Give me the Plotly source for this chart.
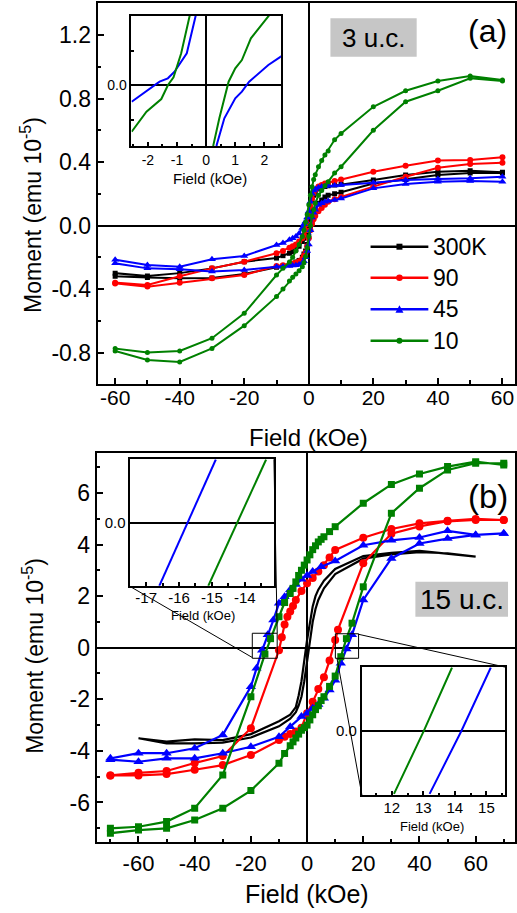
import plotly.graph_objects as go

W, H = 517, 913
FONT = "Liberation Sans, Arial, sans-serif"

# ---------------- Panel (a): 3 u.c. ----------------
a_field_desc = [60, 50, 40, 30, 20, 10, 8, 6, 5, 4, 3, 2, 1.5, 1, 0.5, 0, -0.5, -1, -1.5, -2,
                -3, -4, -5, -6, -8, -10, -20, -30, -40, -50, -60]
a_field_asc = list(reversed(a_field_desc))

a_300K_desc = [0.335, 0.345, 0.339, 0.318, 0.287, 0.26, 0.255, 0.25, 0.245, 0.24, 0.23, 0.21,
               0.19, 0.16, 0.10, 0.03, -0.02, -0.06, -0.08, -0.10, -0.13, -0.15, -0.165, -0.175,
               -0.19, -0.205, -0.228, -0.27, -0.30, -0.318, -0.30]
a_300K_asc = [-0.32, -0.327, -0.333, -0.33, -0.305, -0.263, -0.255, -0.245, -0.24, -0.23, -0.22, -0.2,
              -0.18, -0.16, -0.12, -0.07, -0.02, 0.03, 0.07, 0.1, 0.14, 0.16, 0.18, 0.19,
              0.2, 0.21, 0.265, 0.29, 0.318, 0.33, 0.33]
a_90_desc = [0.43, 0.413, 0.41, 0.377, 0.339, 0.29, 0.28, 0.27, 0.265, 0.255, 0.245, 0.225,
             0.205, 0.17, 0.12, 0.06, 0.01, -0.03, -0.06, -0.08, -0.10, -0.12, -0.13, -0.14,
             -0.16, -0.175, -0.228, -0.27, -0.32, -0.375, -0.36]
a_90_asc = [-0.365, -0.385, -0.36, -0.333, -0.312, -0.255, -0.25, -0.245, -0.24, -0.235, -0.225, -0.21,
            -0.19, -0.17, -0.13, -0.08, -0.03, 0.01, 0.04, 0.06, 0.09, 0.11, 0.13, 0.15,
            0.165, 0.18, 0.245, 0.307, 0.364, 0.387, 0.396]
a_45_desc = [0.307, 0.297, 0.293, 0.287, 0.27, 0.255, 0.252, 0.25, 0.248, 0.245, 0.24, 0.23,
             0.22, 0.2, 0.15, 0.09, 0.05, 0.025, 0.008, -0.015, -0.05, -0.07, -0.08, -0.09,
             -0.11, -0.123, -0.192, -0.213, -0.26, -0.249, -0.215]
a_45_asc = [-0.238, -0.27, -0.276, -0.29, -0.28, -0.26, -0.258, -0.255, -0.252, -0.25, -0.245, -0.235,
            -0.225, -0.2, -0.16, -0.12, -0.03, 0.05, 0.08, 0.1, 0.13, 0.14, 0.15, 0.155,
            0.16, 0.17, 0.234, 0.261, 0.276, 0.28, 0.276]
a_10_desc = [0.917, 0.942, 0.91, 0.849, 0.748, 0.58, 0.54, 0.47, 0.444, 0.41, 0.37, 0.32,
             0.29, 0.244, 0.19, 0.13, 0.07, 0.02, -0.03, -0.07, -0.12, -0.16, -0.2, -0.23,
             -0.27, -0.312, -0.553, -0.71, -0.79, -0.80, -0.775]
a_10_asc = [-0.79, -0.847, -0.86, -0.774, -0.631, -0.448, -0.4, -0.35, -0.326, -0.305, -0.285, -0.26,
            -0.235, -0.196, -0.14, -0.07, 0.0, 0.06, 0.1, 0.14, 0.19, 0.22, 0.25, 0.276,
            0.33, 0.37, 0.60, 0.78, 0.849, 0.927, 0.91]

# inset of panel (a) (low-field zoom)
ia_45_desc_H = [-2.56, -1.60, -1.315, -1.086, -0.973, -0.664, -0.366, -0.2]
ia_45_desc_M = [-0.0242, 0.0048, 0.0097, 0.0193, 0.0265, 0.0459, 0.099, 0.13]
ia_10_desc_H = [-2.56, -2.05, -1.54, -1.31, -1.12, -0.856, -0.572, -0.4]
ia_10_desc_M = [-0.0677, -0.0387, -0.0203, 0.0, 0.0111, 0.0459, 0.099, 0.13]
ia_10_asc_H = [0.24, 0.25, 0.455, 0.774, 1.003, 1.23, 1.54, 2.14, 2.3]
ia_10_asc_M = [-0.095, -0.087, -0.0483, 0.0048, 0.0242, 0.0362, 0.0677, 0.099, 0.108]
ia_45_asc_H = [0.35, 0.364, 0.627, 1.003, 1.23, 1.48, 2.14, 2.6]
ia_45_asc_M = [-0.095, -0.087, -0.0483, -0.0193, -0.0097, 0.0048, 0.029, 0.042]

# ---------------- Panel (b): 15 u.c. ----------------
b_300K_desc_H = [60, 50, 40, 30, 20, 10, 6, 4, 3, 2, 1, 0, -1, -2, -3, -4, -6, -10, -20, -30, -40,
                 -50, -60]
b_300K_desc_M = [3.53, 3.63, 3.75, 3.68, 3.55, 3.05, 2.6, 2.25, 2.0, 1.6, 1.0, 0.3, -0.5, -1.3,
                 -1.85, -2.3, -2.6, -2.85, -3.35, -3.58, -3.55, -3.64, -3.51]
b_300K_asc_H = [-60, -50, -40, -30, -20, -10, -6, -4, -3, -2, -1, 0, 1, 2, 3, 4, 6, 10, 20, 30, 40,
                50, 60]
b_300K_asc_M = [-3.51, -3.71, -3.71, -3.68, -3.48, -3.05, -2.75, -2.5, -2.25, -1.9, -1.3, -0.5,
                0.3, 1.0, 1.5, 1.85, 2.3, 2.85, 3.45, 3.62, 3.7, 3.66, 3.53]

b_90_desc_H = [70, 60, 50, 40, 30, 20, 10, 8, 6, 4, 2, 0, -2, -4, -5, -6, -7, -8, -9, -10, -20,
               -30, -40, -50, -60, -70]
b_90_desc_M = [4.95, 4.99, 4.92, 4.82, 4.6, 4.26, 3.79, 3.5, 3.2, 2.95, 2.7, 2.5, 2.2, 1.85, 1.62,
               1.4, 1.2, 0.9, 0.4, -0.1, -3.12, -4.2, -4.47, -4.78, -4.85, -4.95]
b_90_asc_H = [-70, -60, -50, -40, -30, -20, -10, -8, -6, -4, -2, 0, 2, 4, 6, 8, 10, 11, 20, 30, 40,
              50, 60, 70]
b_90_asc_M = [-4.95, -4.95, -4.9, -4.73, -4.55, -4.16, -3.58, -3.45, -3.35, -3.25, -3.1, -2.54, -2.1,
              -1.6, -1.15, -0.5, 0.3, 0.7, 3.27, 4.42, 4.7, 4.9, 4.95, 4.95]

b_45_desc_H = [70, 60, 50, 40, 30, 20, 10, 5, 2, 0, -2, -4, -6, -8, -10, -12, -14, -16, -18, -20,
               -30, -40, -50, -60, -70]
b_45_desc_M = [4.43, 4.37, 4.53, 4.27, 4.16, 3.97, 3.36, 3.14, 2.95, 2.8, 2.65, 2.45, 2.25, 1.97,
               1.72, 1.07, 0.5, -0.1, -0.8, -1.51, -3.38, -3.9, -4.09, -4.09, -4.29]
b_45_asc_H = [-70, -60, -50, -40, -30, -20, -10, -6, -2, 0, 2, 4, 6, 8, 10, 12, 14, 16, 20, 30,
              40, 50, 60, 70]
b_45_asc_M = [-4.34, -4.42, -4.29, -4.29, -4.09, -3.84, -3.45, -3.06, -2.67, -2.54, -2.35, -2.2,
              -1.96, -1.64, -1.26, -0.6, -0.05, 0.5, 1.85, 3.46, 4.04, 4.23, 4.37, 4.43]

b_10_desc_H = [70, 60, 50, 40, 30, 20, 10, 8, 6, 5, 4, 3, 2, 1, 0, -1, -2, -3, -4, -5, -6, -8,
               -10, -13, -15, -20, -30, -40, -50, -60, -70]
b_10_desc_M = [7.08, 7.21, 7.02, 6.73, 6.33, 5.6, 4.69, 4.5, 4.3, 4.2, 4.1, 3.95, 3.8, 3.6, 3.4,
               3.2, 3.0, 2.8, 2.55, 2.3, 2.1, 1.75, 1.2, 0.35, -0.25, -1.9, -4.93, -6.22, -6.74,
               -6.94, -7.0]
b_10_asc_H = [-70, -60, -50, -40, -30, -20, -10, -8, -6, -5, -4, -3, -2, -1, 0, 1, 2, 3, 4, 5, 6,
              8, 10, 12, 14, 16, 20, 30, 40, 50, 60, 70]
b_10_asc_M = [-7.19, -7.07, -7.0, -6.68, -6.22, -5.54, -4.48, -4.1, -3.8, -3.65, -3.5, -3.35, -3.2,
              -3.1, -3.0, -2.8, -2.6, -2.4, -2.25, -2.05, -1.9, -1.5, -1.1, -0.35, 0.35, 0.95,
              2.36, 5.21, 6.18, 6.89, 7.15, 7.15]

# insets of panel (b)
ib_M = [-0.5, 0.0, 0.5]
ib_left_45_H = [-16.6, -15.74, -14.88]
ib_left_10_H = [-15.11, -14.22, -13.35]
ib_right_10_H = [12.07, 13.02, 13.91]
ib_right_45_H = [13.2, 14.21, 15.14]

legend_labels = ["300K", "90", "45", "10"]
colors = ["#000000", "#ff0000", "#0000ff", "#008000"]

# ---------------- helpers ----------------
def px(x):
    return x / W


def py(y):
    return 1 - y / H


def axis(domain, rng, anchor, tickvals, ticktext, minorvals, size, ticklen=6, zeroline=True,
         standoff=0):
    return dict(domain=domain, range=rng, anchor=anchor, showline=True, linecolor="black",
                linewidth=2, mirror=True, ticks="inside", ticklen=ticklen, tickwidth=2,
                tickcolor="black", tickvals=tickvals, ticktext=ticktext,
                ticklabelstandoff=standoff,
                tickfont=dict(family=FONT, size=size, color="black"),
                minor=dict(tickvals=minorvals, ticks="inside", ticklen=max(2, ticklen * 0.6),
                           tickwidth=1.5, tickcolor="black", showgrid=False),
                showgrid=False, zeroline=zeroline, zerolinecolor="black", zerolinewidth=2,
                fixedrange=True)


fig = go.Figure()

# panel (a) traces
a_sets = [(a_300K_desc, a_300K_asc, "square", 5),
          (a_90_desc, a_90_asc, "circle", 6),
          (a_45_desc, a_45_asc, "triangle-up", 7),
          (a_10_desc, a_10_asc, "circle", 5)]
for (d, u, sym, ms), c, name in zip(a_sets, colors, legend_labels):
    fig.add_trace(go.Scatter(x=a_field_desc + a_field_asc, y=d + u, mode="lines+markers",
                             line=dict(color=c, width=2), marker=dict(symbol=sym, size=ms, color=c),
                             name=name, showlegend=False, xaxis="x", yaxis="y"))

# inset (a)
for hx, my, c in [(ia_45_desc_H, ia_45_desc_M, colors[2]), (ia_10_desc_H, ia_10_desc_M, colors[3]),
                  (ia_45_asc_H, ia_45_asc_M, colors[2]), (ia_10_asc_H, ia_10_asc_M, colors[3])]:
    fig.add_trace(go.Scatter(x=hx, y=my, mode="lines", line=dict(color=c, width=2),
                             showlegend=False, xaxis="x2", yaxis="y2"))

# panel (b) traces
fig.add_trace(go.Scatter(x=b_300K_desc_H + b_300K_asc_H, y=b_300K_desc_M + b_300K_asc_M,
                         mode="lines", line=dict(color=colors[0], width=2.2),
                         showlegend=False, xaxis="x3", yaxis="y3"))
b_sets = [(b_90_desc_H, b_90_desc_M, b_90_asc_H, b_90_asc_M, colors[1], "circle", 8),
          (b_45_desc_H, b_45_desc_M, b_45_asc_H, b_45_asc_M, colors[2], "triangle-up", 9),
          (b_10_desc_H, b_10_desc_M, b_10_asc_H, b_10_asc_M, colors[3], "square", 7)]
for dh, dm, uh, um, c, sym, ms in b_sets:
    fig.add_trace(go.Scatter(x=dh + uh, y=dm + um, mode="lines+markers",
                             line=dict(color=c, width=2.2), marker=dict(symbol=sym, size=ms, color=c),
                             showlegend=False, xaxis="x3", yaxis="y3"))

# insets (b)
for hx, c in [(ib_left_45_H, colors[2]), (ib_left_10_H, colors[3])]:
    fig.add_trace(go.Scatter(x=hx, y=ib_M, mode="lines", line=dict(color=c, width=2),
                             showlegend=False, xaxis="x4", yaxis="y4"))
for hx, c in [(ib_right_10_H, colors[3]), (ib_right_45_H, colors[2])]:
    fig.add_trace(go.Scatter(x=hx, y=ib_M, mode="lines", line=dict(color=c, width=2),
                             showlegend=False, xaxis="x5", yaxis="y5"))

# ---------------- axes ----------------
layout = dict(width=W, height=H, margin=dict(l=0, r=0, t=0, b=0), showlegend=False,
              paper_bgcolor="white", plot_bgcolor="rgba(0,0,0,0)")

layout["xaxis"] = axis([px(98), 1.0], [-65.43, 63.89], "y",
                       [-60, -40, -20, 0, 20, 40, 60], ["-60", "-40", "-20", "0", "20", "40", "60"],
                       [-50, -30, -10, 10, 30, 50], 21, standoff=-6)
layout["yaxis"] = axis([py(384), py(3)], [-0.9984, 1.4016], "x",
                       [-0.8, -0.4, 0.0, 0.4, 0.8, 1.2], ["-0.8", "-0.4", "0.0", "0.4", "0.8", "1.2"],
                       [-0.6, -0.2, 0.2, 0.6, 1.0], 23)
layout["xaxis2"] = axis([px(132), px(282)], [-2.565, 2.572], "y2",
                        [-2, -1, 0, 1, 2], ["-2", "-1", "0", "1", "2"],
                        [-2.5, -1.5, -0.5, 0.5, 1.5, 2.5], 14, ticklen=4)
layout["yaxis2"] = axis([py(146), py(16)], [-0.0884, 0.1], "x2",
                        [0], ["0.0"], [-0.05, 0.05], 14, ticklen=4)
layout["xaxis3"] = axis([px(97), 1.0], [-74.9, 74.0], "y3",
                        [-60, -40, -20, 0, 20, 40, 60], ["-60", "-40", "-20", "0", "20", "40", "60"],
                        [-70, -50, -30, -10, 10, 30, 50, 70], 22)
layout["yaxis3"] = axis([py(842.3), py(452.7)], [-7.543, 7.558], "x3",
                        [-6, -4, -2, 0, 2, 4, 6], ["-6", "-4", "-2", "0", "2", "4", "6"],
                        [-7, -5, -3, -1, 1, 3, 5, 7], 23)
layout["xaxis4"] = axis([px(131), px(275)], [-17.476, -13.112], "y4",
                        [-17, -16, -15, -14], ["-17", "-16", "-15", "-14"],
                        [-16.5, -15.5, -14.5, -13.5], 15, ticklen=4, standoff=-3)
layout["yaxis4"] = axis([py(585.7), py(459.3)], [-0.498, 0.5016], "x4",
                        [0], ["0.0"], [], 15, ticklen=0)
layout["xaxis5"] = axis([px(363.3), px(506.7)], [11.053, 15.581], "y5",
                        [12, 13, 14, 15], ["12", "13", "14", "15"],
                        [11.5, 12.5, 13.5, 14.5, 15.5], 15, ticklen=4, standoff=-2)
layout["yaxis5"] = axis([py(795), py(667.3)], [-0.5087, 0.5016], "x5",
                        [0], ["0.0"], [], 15, ticklen=0)

fig.update_layout(**layout)

# ---------------- shapes ----------------
shapes = []


def pline(x0, y0, x1, y1, w=1, c="black"):
    shapes.append(dict(type="line", xref="paper", yref="paper", x0=px(x0), y0=py(y0),
                       x1=px(x1), y1=py(y1), line=dict(color=c, width=w)))


# label boxes
shapes.append(dict(type="rect", xref="paper", yref="paper", x0=px(331.7), x1=px(418.3),
                   y0=py(56.7), y1=py(18.3), fillcolor="#c6c6c6", line=dict(width=0), layer="below"))
shapes.append(dict(type="rect", xref="paper", yref="paper", x0=px(417), x1=px(510),
                   y0=py(616.7), y1=py(581.7), fillcolor="#c6c6c6", line=dict(width=0), layer="below"))

# zoom boxes in panel (b) and connectors
shapes.append(dict(type="rect", xref="x3", yref="y3", x0=-19.5, x1=-10.64, y0=-0.41, y1=0.56,
                   line=dict(color="black", width=1)))
shapes.append(dict(type="rect", xref="x3", yref="y3", x0=10.07, x1=18.33, y0=-0.41, y1=0.54,
                   line=dict(color="black", width=1)))
pline(253.3, 657.5, 131, 586.7)
pline(278.3, 633.3, 275, 459.3)
pline(360, 634.3, 508, 667.3)
pline(338.3, 658.3, 363.3, 795)

# custom legend for panel (a)
leg_rows = [246.7, 277.7, 309.3, 340.7]
for yy, c, sym in zip(leg_rows, colors, ["square", "circle", "triangle", "circle"]):
    pline(372, yy, 430, yy, w=2.5, c=c)
    cx = 401
    if sym == "square":
        shapes.append(dict(type="rect", xref="paper", yref="paper", x0=px(cx - 3), x1=px(cx + 3),
                           y0=py(yy + 3), y1=py(yy - 3), fillcolor=c, line=dict(width=0)))
    elif sym == "circle":
        r = 3.3 if c == colors[1] else 3
        shapes.append(dict(type="circle", xref="paper", yref="paper", x0=px(cx - r), x1=px(cx + r),
                           y0=py(yy + r), y1=py(yy - r), fillcolor=c, line=dict(width=0)))
    else:
        path = "M {:.5f} {:.5f} L {:.5f} {:.5f} L {:.5f} {:.5f} Z".format(
            px(cx - 4), py(yy + 3.5), px(cx + 4), py(yy + 3.5), px(cx), py(yy - 4))
        shapes.append(dict(type="path", xref="paper", yref="paper", path=path, fillcolor=c,
                           line=dict(width=0)))

fig.update_layout(shapes=shapes)

# ---------------- text ----------------
def ann(text, x, y, size, angle=0, xanchor="center"):
    fig.add_annotation(text=text, x=px(x), y=py(y), xref="paper", yref="paper", showarrow=False,
                       xanchor=xanchor, yanchor="middle", textangle=angle,
                       font=dict(family=FONT, size=size, color="black"))


ann("(a)", 489, 31, 32)
ann("3 u.c.", 375, 38, 26)
ann("(b)", 490, 496, 33)
ann("15 u.c.", 463.5, 599.5, 28)
ann("Field (kOe)", 310, 437, 24)
ann("Field (kOe)", 308, 894, 25)
ann("Moment (emu 10<sup>-5</sup>)", 31, 215, 23, angle=-90)
ann("Moment (emu 10<sup>-5</sup>)", 33, 656, 23, angle=-90)
ann("Field (kOe)", 211, 178, 15)
ann("Field (kOe)", 204, 615, 13)
ann("Field (kOe)", 434, 826, 13)
for lab, yy in zip(legend_labels, leg_rows):
    ann(lab, 433, yy, 23, xanchor="left")

fig.write_html("out.html")
